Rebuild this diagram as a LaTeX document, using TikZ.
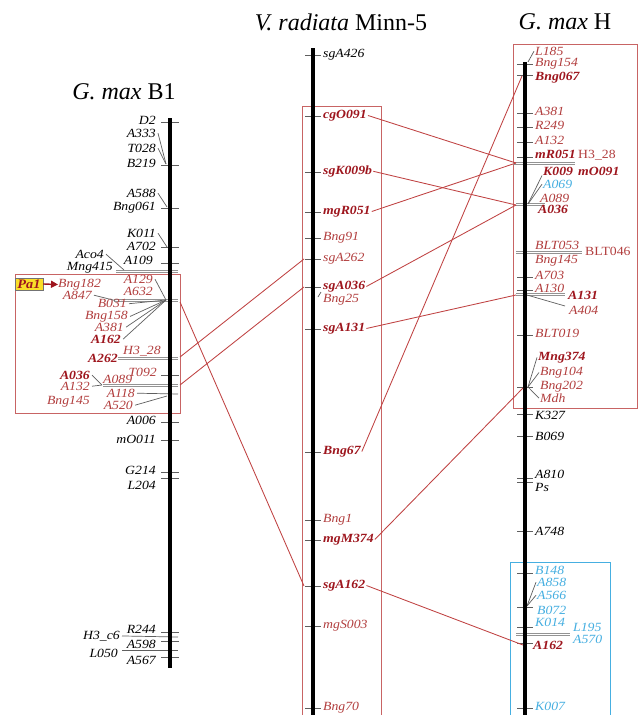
\documentclass[tikz,border=0pt]{standalone}
\usepackage{fontspec}
\setmainfont{Liberation Serif}
\newfontfamily\labfam[FakeStretch=1.1]{Liberation Serif}
\usetikzlibrary{arrows.meta}
\definecolor{redT}{RGB}{178,62,62}
\definecolor{redB}{RGB}{158,22,30}
\definecolor{boxred}{RGB}{200,100,100}
\definecolor{conred}{RGB}{192,66,66}
\definecolor{blueT}{RGB}{70,175,225}
\definecolor{tickgray}{RGB}{95,95,95}
\definecolor{pagelw}{RGB}{250,222,40}
\begin{document}
\begin{tikzpicture}[x=1pt,y=-1pt,
  lab/.style={font=\labfam\itshape\fontsize{12.5}{13}\selectfont, inner sep=0pt},
  le/.style={lab, anchor=mid east},
  lw/.style={lab, anchor=mid west},
  rd/.style={text=redT},
  rb/.style={text=redB, font=\labfam\bfseries\itshape\fontsize{12.5}{13}\selectfont},
  bl/.style={text=blueT},
  up/.style={font=\labfam\fontsize{12.5}{13}\selectfont},
  ttl/.style={font=\fontsize{24}{26}\selectfont, inner sep=0pt},
  tick/.style={draw=tickgray, line width=0.9pt},
  gl/.style={draw=tickgray, line width=0.7pt},
  dbl/.style={draw=gray!85, line width=0.7pt, double=white, double distance=1.6pt},
  bar/.style={line width=4.5pt, black},
  rbox/.style={draw=boxred, line width=0.8pt},
  bbox/.style={draw=blueT, line width=0.8pt},
  con/.style={draw=conred, line width=0.85pt}
]
\useasboundingbox (0,0) rectangle (640,715);
\fill[white] (0,0) rectangle (640,715);

% ---------- titles ----------
\node[ttl] (t1) at (124,92) {\textit{G. max} B1};
\node[ttl] (t2) at (341,22) {\textit{V. radiata} Minn-5};
\node[ttl] (t3) at (565,22) {\textit{G. max} H};

% ---------- boxes ----------
\draw[rbox] (15,274) rectangle (180,413);
\draw[rbox] (302,106) rectangle (381,720);
\draw[rbox] (513,44) rectangle (637,408);
\draw[bbox] (510,562) rectangle (610,720);

% ---------- left chromosome ticks ----------
\foreach \y in {122,165,208,247,263,375,422,440,472,478,632,641,657}
  \draw[tick] (161,\y) -- (179,\y);
\draw[dbl] (116,271.5) -- (178,271.5);
\draw[dbl] (114,300.5) -- (178,300.5);
\draw[dbl] (118,358.5) -- (178,358.5);
\draw[dbl] (103,385.5) -- (178,385.5);

% left labels (black)
\node[le] (lD2) at (156,122) {D2};
\node[le] (lA333) at (156,135) {A333};
\node[le] (lT028) at (156,150) {T028};
\node[le] (lB219) at (156,165) {B219};
\node[le] (lA588) at (156,195) {A588};
\node[le] (lBng061) at (156,208) {Bng061};
\node[le] (lK011) at (156,235) {K011};
\node[le] (lA702) at (156,248) {A702};
\node[le] (lA109) at (153,262) {A109};
\node[le] (lAco4) at (104,256) {Aco4};
\node[le] (lMng415) at (113,268) {Mng415};
\coordinate (cB219) at (166,164);
\coordinate (cBng061) at (167,207);
\coordinate (cA702) at (167,247);
\coordinate (cMng) at (124,270);
\draw[gl] ([xshift=2pt]lA333.east) -- (cB219);
\draw[gl] ([xshift=2pt]lT028.east) -- (cB219);
\draw[gl] ([xshift=2pt]lA588.east) -- (cBng061);
\draw[gl] ([xshift=2pt]lK011.east) -- (cA702);
\draw[gl] ([xshift=2pt]lAco4.east) -- (cMng);

% left box labels
\node[draw=black!55, fill=pagelw, inner xsep=2pt, inner ysep=1.5pt, minimum width=28pt, font=\labfam\bfseries\itshape\fontsize{13}{14}\selectfont, text=redB] (pa1) at (29,284) {Pa1};
\node[lw,rd] (lBng182) at (58,285) {Bng182};
\draw[-{Triangle[length=7pt,width=7pt]}, line width=1.4pt, redB] (pa1.east) -- (lBng182.west);
\node[le,rd] (lA129) at (153,281) {A129};
\node[le,rd] (lA632) at (153,293) {A632};
\node[le,rd] (lA847) at (92,297) {A847};
\node[le,rd] (lB031) at (127,305.5) {B031};
\node[le,rd] (lBng158) at (128,317) {Bng158};
\node[le,rd] (lA381) at (124,329) {A381};
\node[le,rb] (lA162) at (121,341) {A162};
\node[lw,rd] (lH328) at (123,352) {H3\_28};
\node[le,rb] (lA262) at (118,360) {A262};
\node[le,rd] (lT092) at (157,374) {T092};
\node[le,rb] (lA036) at (90,377) {A036};
\node[lw,rd] (lA089) at (103,381) {A089};
\node[le,rd] (lA132) at (90,388) {A132};
\node[le,rd] (lA118) at (135,395) {A118};
\node[le,rd] (lBng145) at (90,402) {Bng145};
\node[le,rd] (lA520) at (133,407) {A520};
\coordinate (cfan) at (166,300);
\coordinate (cA089) at (102,385);
\draw[gl] ([xshift=2pt]lA129.east) -- (cfan);
\draw[gl] ([xshift=2pt]lA847.east) -- (115,300.5);
\draw[gl] ([xshift=2pt]lB031.east) -- (cfan);
\draw[gl] ([xshift=2pt]lBng158.east) -- (cfan);
\draw[gl] ([xshift=2pt]lA381.east) -- (cfan);
\draw[gl] ([xshift=2pt]lA162.east) -- (cfan);
\draw[gl] ([xshift=2pt]lA036.east) -- (cA089);
\draw[gl] ([xshift=2pt]lA132.east) -- (cA089);
\draw[gl] ([xshift=2pt]lA118.east) -- (178,394);
\draw[gl] ([xshift=2pt]lA520.east) -- (167,396);

% left lower labels
\node[le] (lA006) at (156,422) {A006};
\node[le] (lmO011) at (156,441) {mO011};
\node[le] (lG214) at (156,472) {G214};
\node[le] (lL204) at (156,487) {L204};
\node[le] (lR244) at (156,631) {R244};
\node[le] (lH3c6) at (120,637) {H3\_c6};
\node[le] (lA598) at (156,646) {A598};
\node[le] (lL050) at (118,655) {L050};
\node[le] (lA567) at (156,662) {A567};
\draw[gl] ([xshift=2pt]lH3c6.east) -- (178,637);
\draw[gl] (122,650) -- (178,650);

\draw[bar] (170,118) -- (170,668);

% ---------- middle chromosome ----------
\foreach \y in {55,116,172,212,238,259,287,329,452,520,540,586,626,708}
  \draw[tick] (305,\y) -- (321,\y);
\draw[bar] (313,48) -- (313,720);
\node[lw] (msgA426) at (323,55) {sgA426};
\node[lw,rb] (mcgO091) at (323,116) {cgO091};
\node[lw,rb] (msgK009b) at (323,172) {sgK009b};
\node[lw,rb] (mmgR051) at (323,212) {mgR051};
\node[lw,rd] (mBng91) at (323,238) {Bng91};
\node[lw,rd] (msgA262) at (323,259) {sgA262};
\node[lw,rb] (msgA036) at (323,287) {sgA036};
\node[lw,rd] (mBng25) at (323,300) {Bng25};
\node[lw,rb] (msgA131) at (323,329) {sgA131};
\node[lw,rb] (mBng67) at (323,452) {Bng67};
\node[lw,rd] (mBng1) at (323,520) {Bng1};
\node[lw,rb] (mmgM374) at (323,540) {mgM374};
\node[lw,rb] (msgA162) at (323,586) {sgA162};
\node[lw,rd] (mmgS003) at (323,626) {mgS003};
\node[lw,rd] (mBng70) at (323,708) {Bng70};
\draw[gl] (318,297) -- (321,292);

% ---------- right chromosome ----------
\foreach \y in {64,75,113,127,142,157,277,290,335,387,414,436,478,482,531,573,607,627,643,708}
  \draw[tick] (517,\y) -- (533,\y);
\draw[dbl] (513,163.5) -- (575,163.5);
\draw[dbl] (516,204.5) -- (545,204.5);
\draw[dbl] (516,252.5) -- (582,252.5);
\draw[dbl] (516,294.5) -- (565,294.5);
\draw[dbl] (516,634.5) -- (570,634.5);

\node[lw,rd] (rL185) at (535,53) {L185};
\node[lw,rd] (rBng154) at (535,64) {Bng154};
\node[lw,rb] (rBng067) at (535,78) {Bng067};
\node[lw,rd] (rA381) at (535,113) {A381};
\node[lw,rd] (rR249) at (535,127) {R249};
\node[lw,rd] (rA132) at (535,142) {A132};
\node[lw,rb] (rmR051) at (535,156) {mR051};
\node[lw,rd,up] (rH328) at (578,156) {H3\_28};
\node[lw,rb] (rK009) at (543,173) {K009};
\node[lw,rb] (rmO091) at (578,173) {mO091};
\node[lw,bl] (rA069) at (543,186) {A069};
\node[lw,rd] (rA089) at (540,200) {A089};
\node[lw,rb] (rA036) at (538,211) {A036};
\node[lw,rd] (rBLT053) at (535,247) {BLT053};
\node[lw,rd,up] (rBLT046) at (585,253) {BLT046};
\node[lw,rd] (rBng145) at (535,261) {Bng145};
\node[lw,rd] (rA703) at (535,277) {A703};
\node[lw,rd] (rA130) at (535,290) {A130};
\node[lw,rb] (rA131) at (568,297) {A131};
\node[lw,rd] (rA404) at (569,312) {A404};
\node[lw,rd] (rBLT019) at (535,335) {BLT019};
\node[lw,rb] (rMng374) at (538,358) {Mng374};
\node[lw,rd] (rBng104) at (540,373) {Bng104};
\node[lw,rd] (rBng202) at (540,387) {Bng202};
\node[lw,rd] (rMdh) at (540,400) {Mdh};
\node[lw] (rK327) at (535,417) {K327};
\node[lw] (rB069) at (535,438) {B069};
\node[lw] (rA810) at (535,476) {A810};
\node[lw] (rPs) at (535,489) {Ps};
\node[lw] (rA748) at (535,533) {A748};
\node[lw,bl] (rB148) at (535,572) {B148};
\node[lw,bl] (rA858) at (537,584) {A858};
\node[lw,bl] (rA566) at (537,597) {A566};
\node[lw,bl] (rB072) at (537,612) {B072};
\node[lw,bl] (rK014) at (535,624) {K014};
\node[lw,bl] (rL195) at (573,629) {L195};
\node[lw,bl] (rA570) at (573,641) {A570};
\node[lw,rb] (rA162) at (533,647) {A162};
\node[lw,bl] (rK007) at (535,708) {K007};

\coordinate (cL185) at (528,62);
\coordinate (cA089r) at (528,204);
\coordinate (cA130) at (527,295);
\coordinate (cMdh) at (528,387);
\coordinate (cB072) at (527,606);
\draw[gl] ([xshift=-1pt]rL185.west) -- (cL185);
\draw[gl] ([xshift=-1pt]rK009.south west) -- (cA089r);
\draw[gl] ([xshift=-1pt]rA069.west) -- (cA089r);
\draw[gl] (cA130) -- (565,306);
\draw[gl] ([xshift=-1pt]rMng374.west) -- (cMdh);
\draw[gl] ([xshift=-1pt]rBng104.west) -- (cMdh);
\draw[gl] ([xshift=-1pt]rMdh.west) -- (cMdh);
\draw[gl] ([xshift=-1pt]rA858.west) -- (cB072);
\draw[gl] ([xshift=-1pt]rA566.west) -- (cB072);

\draw[bar] (525,62) -- (525,720);

% ---------- connectors ----------
\coordinate (lcA162) at (180,302);
\coordinate (lcA262) at (180,357);
\coordinate (lcA036) at (180,385);
\coordinate (mA162in) at (304,586);
\coordinate (mA262in) at (304,259);
\coordinate (mA036in) at (304,287);
\draw[con] (lcA162) -- (mA162in);
\draw[con] (lcA262) -- (mA262in);
\draw[con] (lcA036) -- (mA036in);

\coordinate (rin163) at (516,163);
\coordinate (rin205) at (516,205);
\coordinate (rin296) at (516,295);
\coordinate (rin78) at (522,76);
\coordinate (rin388) at (523,388);
\coordinate (rin645) at (523,645);
\draw[con] ([xshift=1pt]mcgO091.east) -- (rin163);
\draw[con] ([xshift=1pt]msgK009b.east) -- (rin205);
\draw[con] ([xshift=1pt]mmgR051.east) -- (rin163);
\draw[con] ([xshift=1pt]msgA036.east) -- (rin205);
\draw[con] ([xshift=1pt]msgA131.east) -- (rin296);
\draw[con] ([xshift=1pt]mBng67.east) -- (rin78);
\draw[con] ([xshift=1pt]mmgM374.east) -- (rin388);
\draw[con] ([xshift=1pt]msgA162.east) -- (rin645);
\end{tikzpicture}
\end{document}
